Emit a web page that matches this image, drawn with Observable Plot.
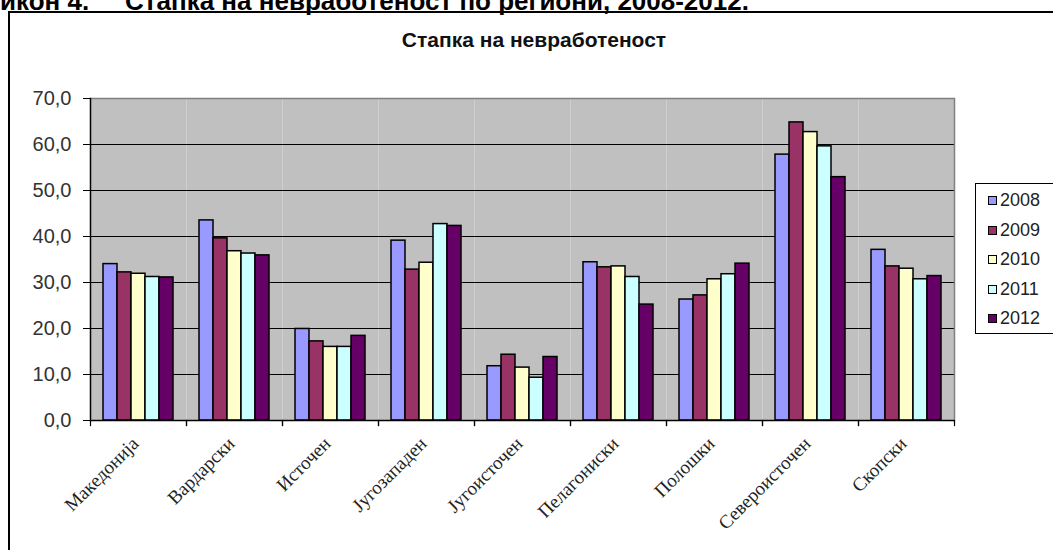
<!DOCTYPE html>
<html>
<head>
<meta charset="utf-8">
<script src="https://cdn.jsdelivr.net/npm/d3@7"></script>
<script src="https://cdn.jsdelivr.net/npm/@observablehq/plot@0.6"></script>
<style>
  html, body { margin: 0; padding: 0; background: #fff; }
  #wrap { position: relative; width: 1053px; height: 550px; overflow: hidden; background: #fff; }
  #chart { position: absolute; left: 0; top: 0; }
  .hdr { position: absolute; top: -12px; font: bold 26px "Liberation Sans", Arial, sans-serif; line-height: 26px; color: #000; white-space: nowrap; }
  #outer { position: absolute; left: 8px; top: 11px; width: 1100px; height: 600px; border-left: 2px solid #000; border-top: 2px solid #000; pointer-events: none; }
  #title { position: absolute; left: 0; width: 1068px; top: 28px; text-align: center; font: bold 21px "Liberation Sans", Arial, sans-serif; color: #111; }
  #legend { position: absolute; left: 975px; top: 183px; width: 100px; height: 149px; border: 1px solid #000; background: #fff; font: 18px "Liberation Sans", Arial, sans-serif; color: #222; }
  .item { position: absolute; left: 12px; height: 20px; line-height: 20px; white-space: nowrap; }
  .sw { display: inline-block; width: 7px; height: 7px; border: 1px solid #000; margin-right: 3px; vertical-align: 1px; }
</style>
</head>
<body>
<div id="wrap">
  <div id="chart"></div>
  <div class="hdr" style="left:0px">икон 4.</div>
  <div class="hdr" style="left:125px">Стапка на невработеност по региони, 2008-2012.</div>
  <div id="outer"></div>
  <div id="title">Стапка на невработеност</div>
  <div id="legend"></div>
</div>
<script>
const regions = ["Македонија", "Вардарски", "Источен", "Југозападен", "Југоисточен", "Пелагониски", "Полошки", "Североисточен", "Скопски"];
const years = ["2008", "2009", "2010", "2011", "2012"];
const colors = ["#9999FF", "#993366", "#FFFFCC", "#CCFFFF", "#660066"];
const v2008 = [34.0, 43.5, 19.9, 39.1, 11.8, 34.4, 26.3, 57.8, 37.1];
const v2009 = [32.2, 39.6, 17.2, 32.8, 14.3, 33.3, 27.2, 64.8, 33.5];
const v2010 = [31.9, 36.8, 16.0, 34.3, 11.5, 33.5, 30.7, 62.7, 33.0];
const v2011 = [31.2, 36.3, 16.0, 42.7, 9.3, 31.2, 31.8, 59.6, 30.7];
const v2012 = [31.1, 35.9, 18.4, 42.3, 13.8, 25.2, 34.1, 52.9, 31.4];
const yTicks = [0, 10, 20, 30, 40, 50, 60, 70];
const gridTicks = [10, 20, 30, 40, 50, 60];

const series = [v2008, v2009, v2010, v2011, v2012];
const data = [];
regions.forEach((r, i) => years.forEach((y, j) => data.push({region: r, year: y, value: series[j][i]})));

const W = 1053, H = 550, mT = 98, mB = 130;
const chart = Plot.plot({
  width: W,
  height: H,
  marginLeft: 89,
  marginRight: 99,
  marginTop: mT,
  marginBottom: mB,
  style: {background: "transparent"},
  fx: {domain: regions, padding: 0, label: null},
  x: {domain: years, paddingInner: 0, paddingOuter: 0.75, axis: null},
  y: {domain: [0, 70], label: null, axis: null},
  color: {domain: years, range: colors},
  marks: [
    Plot.frame({fill: "#c0c0c0"}),
    Plot.ruleY(gridTicks, {stroke: "#000", strokeWidth: 1}),
    Plot.ruleY([70], {stroke: "#808080", strokeWidth: 1.5}),
    Plot.frame({anchor: "right", facetAnchor: "right", stroke: "#808080", strokeWidth: 1.5}),
    Plot.barY(data, {fx: "region", x: "year", y: "value", fill: "year", stroke: "#000", strokeWidth: 1.5}),
    Plot.ruleY([0], {stroke: "#000", strokeWidth: 1.5}),
    Plot.frame({anchor: "left", facetAnchor: "left", stroke: "#000", strokeWidth: 1.5}),
    Plot.frame({anchor: "left", stroke: "#000", strokeWidth: 1.2, insetTop: H - mT - mB, insetBottom: -5}),
    Plot.frame({anchor: "right", stroke: "#000", strokeWidth: 1.2, insetTop: H - mT - mB, insetBottom: -5}),
    Plot.axisY(yTicks, {tickFormat: d => d.toFixed(1).replace(".", ","), tickSize: 7, tickPadding: 12, fontSize: 20, fontFamily: "Liberation Sans, Arial, sans-serif", fill: "#333", stroke: "#000", label: null}),
    Plot.axisFx({anchor: "bottom", tickSize: 0, tickRotate: -45, tickPadding: 20, dx: -3, fontSize: 19, fontFamily: "Liberation Serif, Times New Roman, serif", fill: "#222", label: null})
  ]
});
document.getElementById("chart").appendChild(chart);

const legend = document.getElementById("legend");
years.forEach((y, i) => {
  const d = document.createElement("div");
  d.className = "item";
  d.style.top = (6 + i * 29.6) + "px";
  d.innerHTML = `<span class="sw" style="background:${colors[i]}"></span>${y}`;
  legend.appendChild(d);
});
</script>
</body>
</html>
